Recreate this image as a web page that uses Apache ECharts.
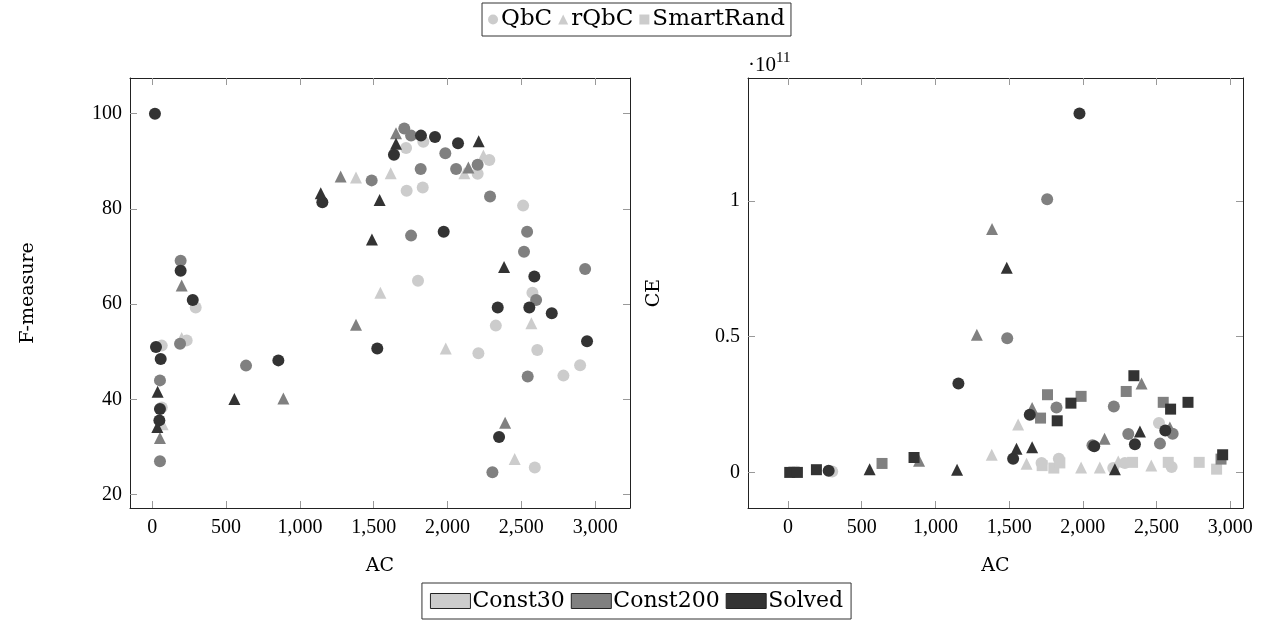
<!DOCTYPE html>
<html>
<head>
<meta charset="utf-8">
<script src="https://cdn.jsdelivr.net/npm/echarts@6/dist/echarts.min.js"></script>
<style>html,body{margin:0;padding:0;background:#fff}#c{width:1273px;height:627px}</style>
</head>
<body>
<div id="c"></div>
<script>
// ---------- tick labels ----------
var xTicks = [0, 500, 1000, 1500, 2000, 2500, 3000];
var leftYTicks = [20, 40, 60, 80, 100];
var rightYTicks = [0, 0.5, 1];

// ---------- left plot: F-measure vs AC ----------
var leftQbcConst30 = [[294,59.3],[64,51.3],[233,52.4],[64,38.3],[1719,92.8],[1836,94.1],[2283,90.3],[2204,87.4],[1723,83.8],[1832,84.5],[2512,80.7],[1800,64.9],[2575,62.4],[2327,55.5],[2209,49.7],[2608,50.4],[2898,47.2],[2785,45.0],[2591,25.7]];
var leftQbcConst200 = [[1486,86.0],[192,69.1],[1707,96.9],[1753,95.4],[1985,91.7],[2204,89.3],[2058,88.4],[1818,88.4],[2288,82.6],[1753,74.4],[2539,75.2],[2518,71.0],[2932,67.4],[2600,60.9],[2543,44.8],[2304,24.7],[188,51.7],[635,47.1],[52,44.0],[52,27.0]];
var leftQbcSolved = [[18,100],[1152,81.4],[192,67.0],[274,60.9],[1820,95.4],[1915,95.1],[1637,91.4],[2071,93.8],[1974,75.2],[2588,65.8],[2340,59.3],[2554,59.3],[2706,58.1],[1524,50.7],[2945,52.2],[2349,32.1],[25,51.0],[57,48.5],[854,48.2],[52,38.0],[48,35.6]];
var leftRqbcConst30 = [[1380,86.6],[1545,62.4],[2243,91.2],[2114,87.5],[1615,87.5],[1988,50.7],[2568,56.0],[2455,27.5],[199,52.9],[70,34.8]];
var leftRqbcConst200 = [[1276,86.8],[199,63.9],[1380,55.7],[1651,95.9],[2141,88.7],[2390,35.1],[888,40.2],[52,31.9]];
var leftRqbcSolved = [[1141,83.3],[1540,81.9],[1488,73.6],[1651,93.7],[2211,94.2],[2383,67.8],[36,41.6],[556,40.1],[34,34.2]];

// ---------- right plot: CE (x 10^11) vs AC ----------
var rightQbcConst30 = [[60,0.002],[300,0.003],[2516,0.182],[1837,0.050],[1720,0.035],[2206,0.016],[2285,0.035],[2602,0.020]];
var rightQbcConst200 = [[1487,0.494],[1758,1.006],[1821,0.239],[2210,0.243],[2609,0.142],[2308,0.141],[2523,0.106],[2065,0.100]];
var rightQbcSolved = [[1156,0.327],[276,0.006],[1977,1.321],[1640,0.212],[2559,0.154],[2353,0.104],[2077,0.096],[1527,0.050]];
var rightRqbcConst30 = [[1382,0.065],[1561,0.176],[1618,0.032],[1988,0.018],[2115,0.018],[2240,0.040],[2464,0.025]];
var rightRqbcConst200 = [[1384,0.896],[1281,0.507],[889,0.043],[2398,0.327],[1656,0.237],[2590,0.165],[2147,0.124]];
var rightRqbcSolved = [[1484,0.753],[554,0.012],[1147,0.010],[2387,0.151],[1550,0.087],[1656,0.093],[2217,0.012]];
var rightSrConst30 = [[40,0.003],[1724,0.025],[1803,0.016],[1844,0.035],[2337,0.037],[2579,0.037],[2789,0.037],[2907,0.012]];
var rightSrConst200 = [[638,0.033],[2294,0.298],[1760,0.286],[1988,0.280],[2545,0.258],[1713,0.200],[2937,0.049]];
var rightSrSolved = [[12,0],[64,0],[193,0.01],[855,0.055],[2346,0.356],[1919,0.255],[2595,0.233],[2713,0.258],[1826,0.190],[2948,0.065]];

var methods = ['QbC', 'rQbC', 'SmartRand'];
var configs = ['Const30', 'Const200', 'Solved'];

var COL = {Const30: '#cccccc', Const200: '#808080', Solved: '#333333'};
var SYM = {QbC: 'circle', rQbC: 'triangle', SmartRand: 'rect'};
var SIZE = {QbC: 12, rQbC: 12, SmartRand: 11};
var FONT = 'Liberation Serif';
var FONT2 = 'DejaVu Serif';

var chart = echarts.init(document.getElementById('c'), null, {renderer: 'canvas'});

function fmt(v) { return Number(v).toLocaleString('en-US'); }

function xAxisPair(gi, min, max) {
  return [{
    type: 'value', gridIndex: gi, min: min, max: max, position: 'bottom',
    name: 'AC', nameLocation: 'middle', nameGap: 49,
    nameTextStyle: {fontFamily: FONT2, fontSize: 19, color: '#000'},
    axisLine: {show: true, onZero: false, lineStyle: {color: '#222', width: 1}},
    axisTick: {show: true, inside: true, length: 7, customValues: xTicks, lineStyle: {color: '#999'}},
    axisLabel: {show: true, customValues: xTicks, formatter: fmt, fontFamily: FONT, fontSize: 20, color: '#000', margin: 10},
    splitLine: {show: false}
  }, {
    type: 'value', gridIndex: gi, min: min, max: max, position: 'top',
    axisLine: {show: true, onZero: false, lineStyle: {color: '#222', width: 1}},
    axisTick: {show: true, inside: true, length: 7, customValues: xTicks, lineStyle: {color: '#999'}},
    axisLabel: {show: false}, splitLine: {show: false}
  }];
}
function yAxisPair(gi, min, max, ticks, name, nameGap, labFmt) {
  return [{
    type: 'value', gridIndex: gi, min: min, max: max, position: 'left',
    name: name, nameLocation: 'middle', nameGap: nameGap,
    nameTextStyle: {fontFamily: FONT2, fontSize: 19, color: '#000'},
    axisLine: {show: true, onZero: false, lineStyle: {color: '#222', width: 1}},
    axisTick: {show: true, inside: true, length: 7, customValues: ticks, lineStyle: {color: '#999'}},
    axisLabel: {show: true, customValues: ticks, formatter: labFmt, fontFamily: FONT, fontSize: 20, color: '#000', margin: 8},
    splitLine: {show: false}
  }, {
    type: 'value', gridIndex: gi, min: min, max: max, position: 'right',
    axisLine: {show: true, onZero: false, lineStyle: {color: '#222', width: 1}},
    axisTick: {show: true, inside: true, length: 7, customValues: ticks, lineStyle: {color: '#999'}},
    axisLabel: {show: false}, splitLine: {show: false}
  }];
}

var xAxes = xAxisPair(0, -151, 3236).concat(xAxisPair(1, -271, 3086));
var yAxes = yAxisPair(0, 17.2, 107.5, leftYTicks, 'F-measure', 92, function (v) { return String(v); })
  .concat(yAxisPair(1, -0.131, 1.452, rightYTicks, 'CE', 84, function (v) { return String(v); }));

var series = [];
function addSeries(data, method, config, xi, yi) {
  series.push({
    type: 'scatter', name: method + ' ' + config, xAxisIndex: xi, yAxisIndex: yi,
    symbol: SYM[method], symbolSize: SIZE[method], data: data,
    itemStyle: {color: COL[config], opacity: 1}, silent: true, animation: false
  });
}
// left (axes 0)
addSeries(leftQbcConst30, 'QbC', 'Const30', 0, 0);
addSeries(leftRqbcConst30, 'rQbC', 'Const30', 0, 0);
addSeries(leftQbcConst200, 'QbC', 'Const200', 0, 0);
addSeries(leftRqbcConst200, 'rQbC', 'Const200', 0, 0);
addSeries(leftQbcSolved, 'QbC', 'Solved', 0, 0);
addSeries(leftRqbcSolved, 'rQbC', 'Solved', 0, 0);
// right (axes 2)
addSeries(rightQbcConst30, 'QbC', 'Const30', 2, 2);
addSeries(rightRqbcConst30, 'rQbC', 'Const30', 2, 2);
addSeries(rightSrConst30, 'SmartRand', 'Const30', 2, 2);
addSeries(rightQbcConst200, 'QbC', 'Const200', 2, 2);
addSeries(rightRqbcConst200, 'rQbC', 'Const200', 2, 2);
addSeries(rightSrConst200, 'SmartRand', 'Const200', 2, 2);
addSeries(rightQbcSolved, 'QbC', 'Solved', 2, 2);
addSeries(rightRqbcSolved, 'rQbC', 'Solved', 2, 2);
addSeries(rightSrSolved, 'SmartRand', 'Solved', 2, 2);

// legend-only series
methods.forEach(function (m) {
  series.push({type: 'scatter', name: m, data: [], symbol: SYM[m], xAxisIndex: 0, yAxisIndex: 0, itemStyle: {color: '#cccccc', opacity: 1}});
});
configs.forEach(function (c) {
  series.push({type: 'scatter', name: c, data: [], symbol: 'rect', xAxisIndex: 0, yAxisIndex: 0, itemStyle: {color: COL[c], opacity: 1, borderColor: '#222', borderWidth: 1}});
});

var option = {
  animation: false,
  backgroundColor: '#fff',
  grid: [
    {left: 130, top: 78, width: 500, height: 430},
    {left: 748, top: 78, width: 495, height: 430}
  ],
  xAxis: xAxes,
  yAxis: yAxes,
  legend: [{
    data: methods.map(function (m) {
      return {name: m, icon: m === 'QbC' ? 'circle' : (m === 'rQbC' ? 'triangle' : 'rect'),
              itemStyle: {color: '#cccccc', opacity: 1, borderWidth: 0}};
    }),
    left: 'center', top: 3, orient: 'horizontal',
    itemWidth: 10, itemHeight: 10, itemGap: 6,
    borderColor: '#333', borderWidth: 1, padding: [5, 6, 5, 6],
    textStyle: {fontFamily: FONT2, fontSize: 23, color: '#000', padding: [0, 0, 0, -2]},
    selectedMode: false
  }, {
    data: configs.map(function (c) {
      return {name: c, itemStyle: {color: COL[c], opacity: 1, borderColor: '#222', borderWidth: 1}};
    }),
    left: 'center', top: 583, orient: 'horizontal',
    icon: 'rect', itemWidth: 40, itemHeight: 15, itemGap: 6,
    borderColor: '#333', borderWidth: 1, padding: [7, 8, 7, 8],
    textStyle: {fontFamily: FONT2, fontSize: 22, color: '#000', padding: [0, 0, 0, -3]},
    selectedMode: false
  }],
  graphic: [{
    type: 'text', left: 748, top: 51,
    style: {
      text: '{a|·10}{b|11}',
      rich: {
        a: {fontFamily: FONT, fontSize: 21, fill: '#000', verticalAlign: 'bottom'},
        b: {fontFamily: FONT, fontSize: 15, fill: '#000', verticalAlign: 'top', padding: [0, 0, 10, 0]}
      }
    }
  }],
  series: series
};
chart.setOption(option);
</script>
</body>
</html>
